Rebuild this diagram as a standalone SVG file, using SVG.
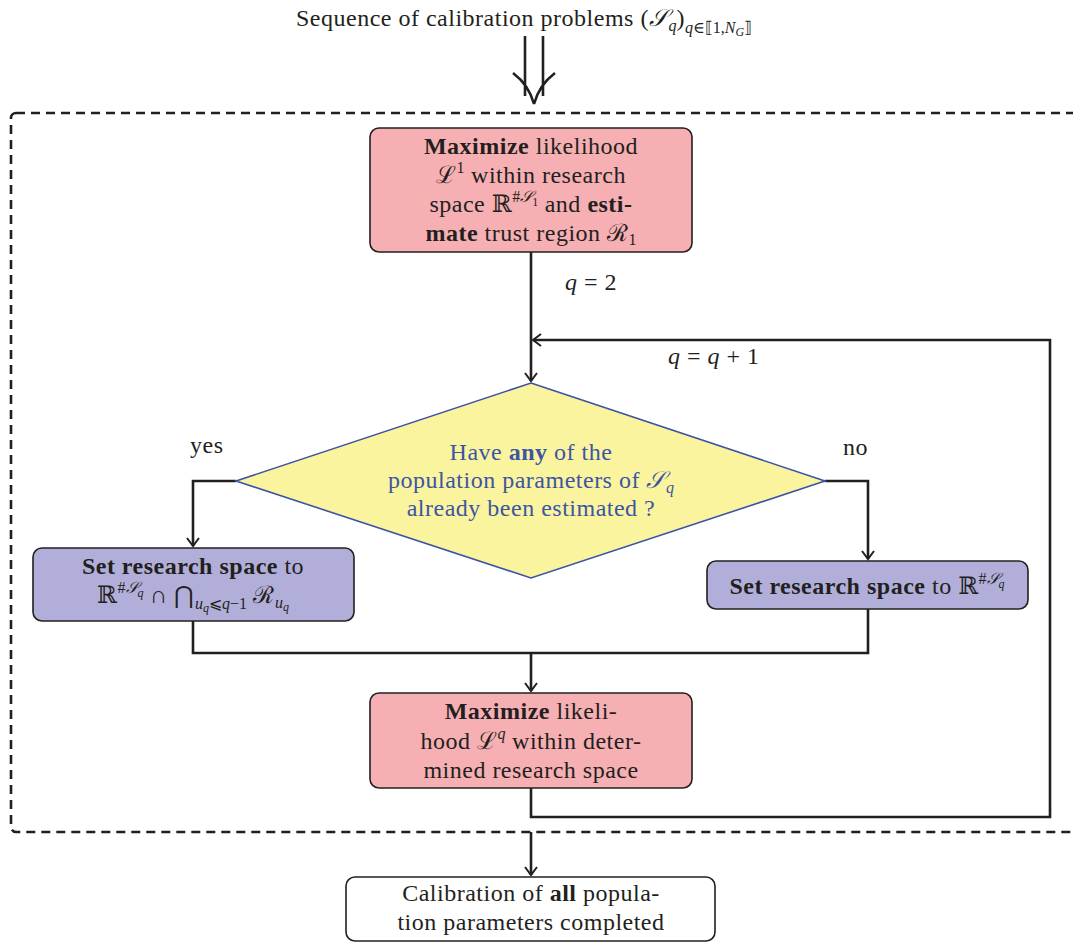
<svg xmlns="http://www.w3.org/2000/svg" width="1073" height="943" viewBox="0 0 1073 943">
<defs>
<style>
text{font-family:"Liberation Serif","DejaVu Serif",serif;font-size:24px;letter-spacing:0.5px;fill:#231f20}
.c{text-anchor:middle}
.b{font-weight:bold}
.i{font-style:italic}
.blue{fill:#3d54a6}
.pink{fill:#f6afb3;stroke:#231f20;stroke-width:1.6}
.lav{fill:#b1afd9;stroke:#231f20;stroke-width:1.6}
.white{fill:#ffffff;stroke:#231f20;stroke-width:1.6}
.ln{fill:none;stroke:#231f20;stroke-width:2.6}
.s{font-size:16px;letter-spacing:0}
.ss{font-size:12px;letter-spacing:0}
</style>
<marker id="ar" viewBox="-10 -8 12 16" markerWidth="12" markerHeight="16" refX="0" refY="0" orient="auto" markerUnits="userSpaceOnUse">
<path d="M-8,-6 Q-2,-1.5 0,0 Q-2,1.5 -8,6" fill="none" stroke="#231f20" stroke-width="2"/>
</marker>
</defs>
<rect x="11" y="113" width="1090" height="719" rx="5" fill="none" stroke="#231f20" stroke-width="2.6" stroke-dasharray="9,6"/>
<g id="title">
<text x="296" y="26">Sequence of calibration problems (<tspan class="i">𝒮</tspan><tspan class="i s" dy="5">q</tspan><tspan dy="-5">)</tspan><tspan class="s" dy="7"><tspan class="i">q</tspan>∈⟦1,<tspan class="i">N</tspan><tspan class="i ss" dy="3">G</tspan><tspan dy="-3">⟧</tspan></tspan></text>
<path class="ln" d="M525,36 V96 M543,36 V96 M513,73 Q529,85 534,104 M555,73 Q539,85 534,104"/>
</g>
<g id="connectors">
<path class="ln" d="M531,252 V381" marker-end="url(#ar)"/>
<path class="ln" d="M531,788 V817 H1050 V340 H533" marker-end="url(#ar)"/>
<path class="ln" d="M236,481 H193 V546" marker-end="url(#ar)"/>
<path class="ln" d="M825,481 H868 V559" marker-end="url(#ar)"/>
<path class="ln" d="M193,621 V653 H868 V609"/>
<path class="ln" d="M531,653 V691" marker-end="url(#ar)"/>
<path class="ln" d="M531,832 V875" marker-end="url(#ar)"/>
<text x="565" y="290"><tspan class="i">q</tspan> = 2</text>
<text x="668" y="364"><tspan class="i">q</tspan> = <tspan class="i">q</tspan> + 1</text>
<text x="190" y="453">yes</text>
<text x="843" y="455">no</text>
</g>
<g id="n1">
<rect class="pink" x="370" y="128" width="322" height="124" rx="9"/>
<text class="c" x="531" y="154"><tspan class="b">Maximize</tspan> likelihood</text>
<text class="c" x="531" y="183">ℒ<tspan class="s" dy="-10">1</tspan><tspan dy="10"> within research</tspan></text>
<text class="c" x="531" y="212">space ℝ<tspan class="s" dy="-10">#<tspan class="i">𝒮</tspan><tspan class="ss" dy="4">1</tspan></tspan><tspan dy="6"> and </tspan><tspan class="b">esti-</tspan></text>
<text class="c" x="531" y="241"><tspan class="b">mate</tspan> trust region ℛ<tspan class="s" dy="4">1</tspan></text>
</g>
<g id="n2">
<polygon points="531,383 825,481 531,578 236,481" fill="#f9f49d" stroke="#3d54a6" stroke-width="1.6"/>
<text class="c blue" x="531" y="460">Have <tspan class="b">any</tspan> of the</text>
<text class="c blue" x="531" y="488">population parameters of <tspan class="i">𝒮</tspan><tspan class="i s" dy="5">q</tspan></text>
<text class="c blue" x="531" y="516">already been estimated ?</text>
</g>
<g id="n3">
<rect class="lav" x="33" y="548" width="321" height="73" rx="9"/>
<text class="c" x="193" y="574"><tspan class="b">Set research space</tspan> to</text>
<text class="c" x="193" y="603">ℝ<tspan class="s" dy="-10">#<tspan class="i">𝒮</tspan><tspan class="i ss" dy="4">q</tspan></tspan><tspan dy="6"> ∩ ⋂</tspan><tspan class="s" dy="6"><tspan class="i">u</tspan><tspan class="i ss" dy="3">q</tspan><tspan dy="-3">⩽</tspan><tspan class="i">q</tspan>−1</tspan><tspan dy="-6"> ℛ</tspan><tspan class="s i" dy="5">u</tspan><tspan class="i ss" dy="3">q</tspan></text>
</g>
<g id="n4">
<rect class="lav" x="707" y="561" width="321" height="48" rx="9"/>
<text class="c" x="867" y="594"><tspan class="b">Set research space</tspan> to ℝ<tspan class="s" dy="-10">#<tspan class="i">𝒮</tspan><tspan class="i ss" dy="4">q</tspan></tspan></text>
</g>
<g id="n5">
<rect class="pink" x="370" y="693" width="322" height="95" rx="9"/>
<text class="c" x="531" y="719"><tspan class="b">Maximize</tspan> likeli-</text>
<text class="c" x="531" y="749">hood ℒ<tspan class="i s" dy="-10">q</tspan><tspan dy="10"> within deter-</tspan></text>
<text class="c" x="531" y="778">mined research space</text>
</g>
<g id="n6">
<rect class="white" x="346" y="877" width="369" height="64" rx="9"/>
<text class="c" x="531" y="901">Calibration of <tspan class="b">all</tspan> popula-</text>
<text class="c" x="531" y="930">tion parameters completed</text>
</g>
</svg>
